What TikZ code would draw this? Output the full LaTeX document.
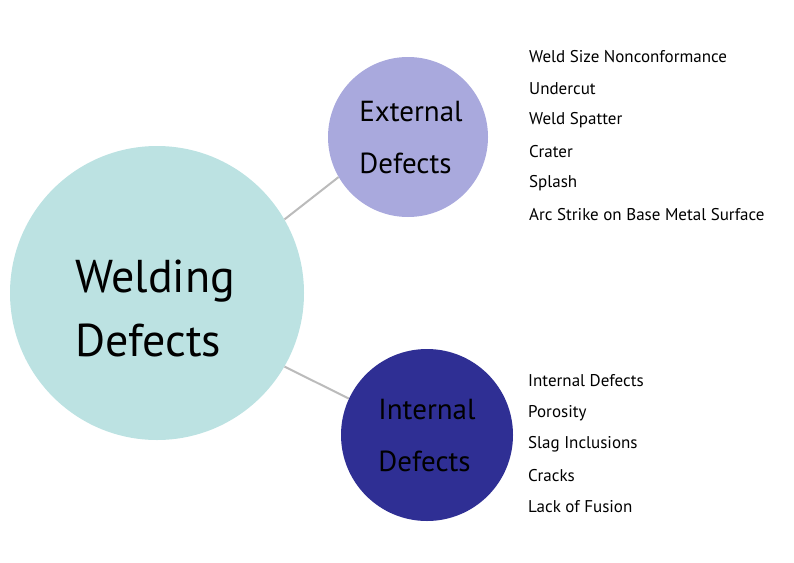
\documentclass[tikz,border=0pt]{standalone}
\usepackage{fontspec}
\setmainfont{PT Sans}
\definecolor{bigc}{HTML}{BCE2E2}
\definecolor{extc}{HTML}{A9A9DD}
\definecolor{intc}{HTML}{2F2F94}
\definecolor{lnc}{HTML}{BBBBBB}
\begin{document}
\begin{tikzpicture}[x=1pt,y=-1pt,
  circ/.style={circle,inner sep=0pt},
  item/.style={anchor=west,inner sep=0pt,font=\fontsize{17}{20}\selectfont,text=black},
  lnk/.style={draw=lnc,line width=2pt}]
\useasboundingbox (0,0) rectangle (794,562);
\node[circ,fill=bigc,minimum size=294pt] (w) at (157,293) {};
\node[circ,fill=extc,minimum size=160pt] (e) at (408,137) {};
\node[circ,fill=intc,minimum size=172pt] (i) at (427,435) {};
\node[align=left,font=\fontsize{46}{64}\selectfont] at (155,308) {Welding\\Defects};
\node[align=left,font=\fontsize{29}{52}\selectfont] at (411,138) {External\\Defects};
\node[align=left,font=\fontsize{29}{52}\selectfont] at (427,436) {Internal\\Defects};
\draw[lnk] (w.30) -- (e.210);
\draw[lnk] (w.-30) -- (i.155);
\node[item] at (529,57) {Weld Size Nonconformance};
\node[item] at (529,89) {Undercut};
\node[item] at (529,120) {Weld Spatter};
\node[item] at (529,152) {Crater};
\node[item] at (529,183) {Splash};
\node[item] at (529,215) {Arc Strike on Base Metal Surface};
\node[item] at (528,381) {Internal Defects};
\node[item] at (528,413) {Porosity};
\node[item] at (528,444) {Slag Inclusions};
\node[item] at (528,476) {Cracks};
\node[item] at (528,507) {Lack of Fusion};
\end{tikzpicture}
\end{document}
